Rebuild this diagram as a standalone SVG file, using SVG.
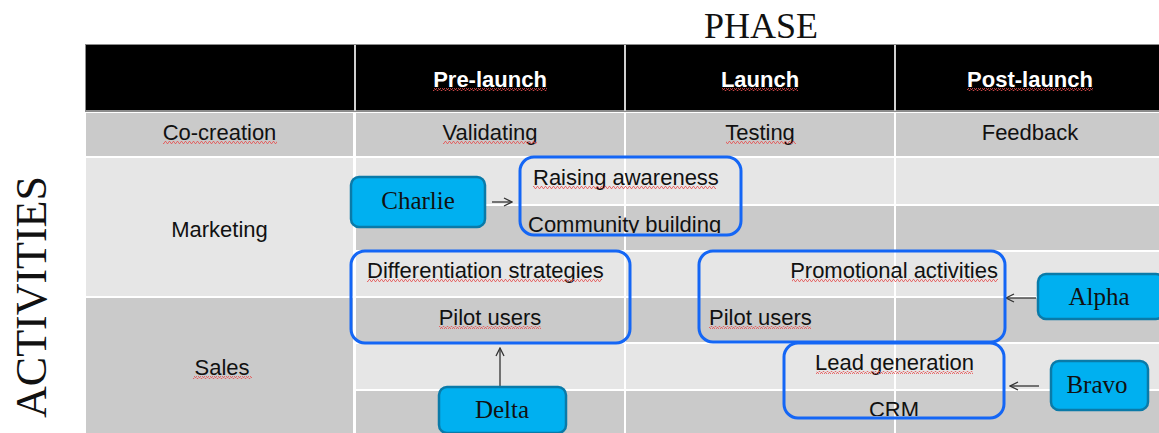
<svg xmlns="http://www.w3.org/2000/svg" width="1159" height="433" viewBox="0 0 1159 433">
<defs>
<style>
.hd{fill:#000}
.lt{fill:#e6e6e6}
.dk{fill:#cacaca}
.t{font-family:"Liberation Sans",Arial,sans-serif;font-size:22px;fill:#111}
.th{font-family:"Liberation Sans",Arial,sans-serif;font-size:22px;font-weight:bold;fill:#fff}
.ts{font-family:"Liberation Serif","Times New Roman",serif;fill:#111}
.grp{fill:none;stroke:#1466f5;stroke-width:3}
.act{fill:#00b0f0;stroke:#0a7aa8;stroke-width:2.5}
.arr{stroke:#333;stroke-width:1.3;fill:none;marker-end:url(#ah)}
.sq{fill:url(#wave)}
</style>
<marker id="ah" viewBox="0 0 10 10" refX="9" refY="5" markerWidth="10" markerHeight="10" markerUnits="userSpaceOnUse" orient="auto">
<path d="M1,1 L9,5 L1,9" fill="none" stroke="#333" stroke-width="1.3"/>
</marker>
<pattern id="wave" x="0" y="0" width="4" height="3" patternUnits="userSpaceOnUse">
<path d="M0,2.5 L1,0.5 L2,0.5 L3,2.5 L4,2.5" fill="none" stroke="#e65050" stroke-width="0.8"/>
</pattern>
<clipPath id="c1"><rect x="520" y="157" width="221" height="76"/></clipPath>
<clipPath id="c5"><rect x="784" y="343" width="220" height="73"/></clipPath>
</defs>
<rect width="1159" height="433" fill="#fff"/>
<g id="table">
<rect x="85" y="44" width="1078" height="68" fill="#8c8c8c"/>
<rect x="354" y="45" width="2" height="66" fill="#d0d0d0"/>
<rect x="624" y="45" width="2" height="66" fill="#d0d0d0"/>
<rect x="894" y="45" width="2" height="66" fill="#d0d0d0"/>
<rect class="hd" x="86" y="45" width="268" height="65"/>
<rect class="hd" x="356" y="45" width="268" height="65"/>
<rect class="hd" x="626" y="45" width="268" height="65"/>
<rect class="hd" x="896" y="45" width="266" height="65"/>
<rect class="dk" x="86" y="113" width="267" height="43"/>
<rect class="dk" x="356" y="113" width="268" height="43"/>
<rect class="dk" x="626" y="113" width="268" height="43"/>
<rect class="dk" x="896" y="113" width="266" height="43"/>
<rect class="lt" x="86" y="158" width="267" height="138"/>
<rect class="dk" x="86" y="298" width="267" height="140"/>
<rect class="lt" x="356" y="158" width="268" height="46"/>
<rect class="lt" x="626" y="158" width="268" height="46"/>
<rect class="lt" x="896" y="158" width="266" height="46"/>
<rect class="dk" x="356" y="206" width="268" height="44"/>
<rect class="dk" x="626" y="206" width="268" height="44"/>
<rect class="dk" x="896" y="206" width="266" height="44"/>
<rect class="lt" x="356" y="252" width="268" height="44"/>
<rect class="lt" x="626" y="252" width="268" height="44"/>
<rect class="lt" x="896" y="252" width="266" height="44"/>
<rect class="dk" x="356" y="298" width="268" height="44"/>
<rect class="dk" x="626" y="298" width="268" height="44"/>
<rect class="dk" x="896" y="298" width="266" height="44"/>
<rect class="lt" x="356" y="344" width="268" height="45"/>
<rect class="lt" x="626" y="344" width="268" height="45"/>
<rect class="lt" x="896" y="344" width="266" height="45"/>
<rect class="dk" x="356" y="391" width="268" height="45"/>
<rect class="dk" x="626" y="391" width="268" height="45"/>
<rect class="dk" x="896" y="391" width="266" height="45"/>
<text class="th" x="490" y="87" text-anchor="middle">Pre-launch</text>
<text class="th" x="760" y="87" text-anchor="middle">Launch</text>
<text class="th" x="1030" y="87" text-anchor="middle">Post-launch</text>
<text class="t" x="219.5" y="140" text-anchor="middle">Co-creation</text>
<text class="t" x="490" y="140" text-anchor="middle">Validating</text>
<text class="t" x="760" y="140" text-anchor="middle">Testing</text>
<text class="t" x="1030" y="140" text-anchor="middle">Feedback</text>
<text class="t" x="219.5" y="237" text-anchor="middle">Marketing</text>
<text class="t" x="222" y="375" text-anchor="middle">Sales</text>
<rect class="sq" x="163" y="141" width="114" height="3"/>
<rect class="sq" x="433" y="88" width="114" height="3"/>
<rect class="sq" x="722" y="88" width="76" height="3"/>
<rect class="sq" x="967" y="88" width="126" height="3"/>
<rect class="sq" x="443" y="141" width="94" height="3"/>
<rect class="sq" x="726" y="141" width="70" height="3"/>
<rect class="sq" x="193" y="376" width="59" height="3"/>
</g>
<g id="titles">
<text class="ts" x="761" y="38" text-anchor="middle" font-size="36">PHASE</text>
<text class="ts" transform="translate(46,297) rotate(-90)" text-anchor="middle" font-size="44">ACTIVITIES</text>
</g>
<g id="connectors">
<line class="arr" x1="492" y1="202" x2="512" y2="202"/>
<line class="arr" x1="1036" y1="298" x2="1006" y2="298"/>
<line class="arr" x1="1039" y1="386" x2="1010" y2="386"/>
<line class="arr" x1="500" y1="387" x2="500" y2="348"/>
</g>
<g id="marketing-group">
<rect class="grp" x="520" y="157" width="221" height="78" rx="14"/>
<text class="t" x="533" y="185">Raising awareness</text>
<rect class="sq" x="533" y="186" width="183" height="3"/>
<g clip-path="url(#c1)"><text class="t" x="528" y="232">Community building</text></g>
</g>
<g id="prelaunch-group">
<rect class="grp" x="351" y="251" width="279" height="92" rx="14"/>
<text class="t" x="367" y="278">Differentiation strategies</text>
<rect class="sq" x="367" y="279" width="235" height="3"/>
<text class="t" x="490" y="325" text-anchor="middle">Pilot users</text>
<rect class="sq" x="439" y="326" width="102" height="3"/>
</g>
<g id="launch-group">
<rect class="grp" x="699" y="251" width="306" height="91" rx="14"/>
<text class="t" x="998" y="278" text-anchor="end">Promotional activities</text>
<rect class="sq" x="792" y="279" width="206" height="3"/>
<text class="t" x="709" y="325">Pilot users</text>
<rect class="sq" x="709" y="326" width="102" height="3"/>
</g>
<g id="sales-group">
<rect class="grp" x="784" y="343" width="220" height="75" rx="14"/>
<text class="t" x="894.5" y="370" text-anchor="middle">Lead generation</text>
<rect class="sq" x="816" y="371" width="157" height="3"/>
<g clip-path="url(#c5)"><text class="t" x="894" y="417" text-anchor="middle">CRM</text></g>
</g>
<g id="charlie">
<rect class="act" x="351" y="177" width="134" height="50" rx="8"/>
<text class="ts" x="418" y="209" text-anchor="middle" font-size="25">Charlie</text>
</g>
<g id="alpha">
<rect class="act" x="1038" y="274" width="126" height="45" rx="8"/>
<text class="ts" x="1099" y="305" text-anchor="middle" font-size="25">Alpha</text>
</g>
<g id="bravo">
<rect class="act" x="1051" y="361" width="97" height="49" rx="8"/>
<text class="ts" x="1097" y="393" text-anchor="middle" font-size="25">Bravo</text>
</g>
<g id="delta">
<rect class="act" x="439" y="387" width="127" height="46" rx="8"/>
<text class="ts" x="502" y="418" text-anchor="middle" font-size="25">Delta</text>
</g>
</svg>
